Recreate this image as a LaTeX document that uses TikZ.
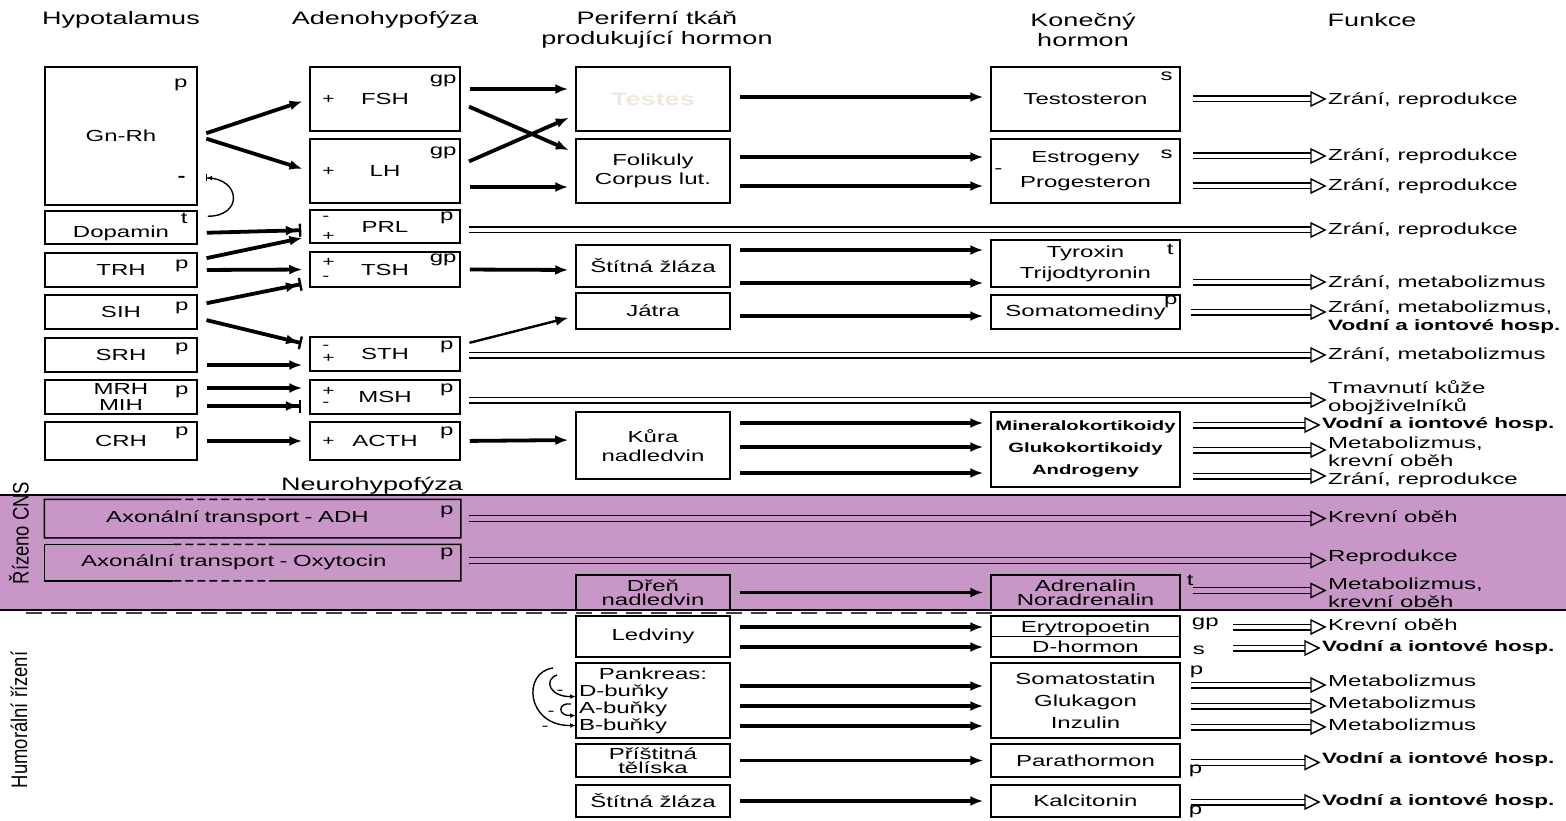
\documentclass[tikz,border=0pt]{standalone}
\usepackage{fontspec}
\setmainfont{Liberation Sans}[FakeStretch=1.5]
\newfontfamily\sidefont{Liberation Sans}[FakeStretch=0.82]
\usepackage{tikz}
\usetikzlibrary{positioning, arrows.meta, calc, backgrounds}

\definecolor{cnsband}{RGB}{201,150,200}
\definecolor{faint}{RGB}{238,233,220}

% double arrow with open head: start coordinate, target text node
\newcommand{\fnarrow}[2]{%
  \coordinate (fnS) at #1;
  \coordinate (fnE) at ($(fnS -| #2.west)+(-3,0)$);
  \draw[fnline] ($(fnS)+(0,-2.8)$) -- ($(fnE)+(-14,-2.8)$);
  \draw[fnline] ($(fnS)+(0,2.8)$) -- ($(fnE)+(-14,2.8)$);
  \draw[fnline, line join=miter] (fnE) -- ++(-14,-7) -- ++(0,14) -- cycle;
}

\begin{document}
\begin{tikzpicture}[
    x=1pt, y=-1pt,
    every node/.style={font=\fontsize{16}{19}\selectfont},
    head/.style={font=\fontsize{18}{20}\selectfont, align=center, inner sep=0pt},
    side/.style={font=\sidefont\fontsize{22.5}{24}\selectfont, rotate=90, inner sep=0pt},
    box/.style={draw, line width=1.5pt, inner sep=2pt, align=center},
    hyp/.style={box, minimum width=152pt},
    ade/.style={box, minimum width=150pt},
    per/.style={box, minimum width=154pt},
    kon/.style={box, minimum width=189pt},
    edge/.style={line width=1.5pt},
    tag/.style={inner sep=0pt},
    sign/.style={inner sep=0pt, font=\fontsize{14}{14}\selectfont},
    fn/.style={anchor=west, inner sep=0pt, align=left, font=\fontsize{16}{18}\selectfont},
    fnb/.style={fn, font=\bfseries\fontsize{15}{18}\selectfont},
    fnline/.style={line width=1.4pt},
    arr/.style={line width=3.8pt, -{Latex[length=13pt,width=10pt]}, shorten <=9pt, shorten >=7pt},
    inh/.style={arr, -{Latex[length=13pt,width=10pt] Bar[width=13pt,line width=2.4pt,sep=1pt]}},
    loopl/.style={line width=1.4pt, -{Latex[length=5pt,width=5pt] Bar[width=7pt,line width=1.4pt,sep=1pt]}},
    fbl/.style={line width=1.4pt, -{Latex[length=5pt,width=5pt]}},
    sepline/.style={line width=2.5pt, black!75, dash pattern=on 16pt off 9pt},
  ]
  \useasboundingbox (0,0) rectangle (1566,821);

  % ---- CNS band ----
  \begin{scope}[on background layer]
    \fill[cnsband] (0,495) rectangle (1566,610);
  \end{scope}
  \draw[sepline] (26,613) -- (993,613);
  \draw[line width=2.5pt] (0,495) -- (1566,495);
  \draw[line width=2.5pt] (0,610) -- (1566,610);

  % ---- Headings ----
  \node[head] (hhyp) at (121,20) {Hypotalamus};
  \node[head] (hade) at (385,20) {Adenohypofýza};
  \node[head] (hper) at (657,30) {Periferní tkáň\\produkující hormon};
  \node[head] (hkon) at (1083,30) {Konečný\\hormon};
  \node[head] (hfun) at (1372,20) {Funkce};
  \node[head] (hneu) at (372,486) {Neurohypofýza};
  \node[side] (scns) at (19,533) {Řízeno CNS};
  \node[side] (shum) at (19,720) {Humorální řízení};

  % ---- Hypotalamus ----
  \node[hyp, minimum height=138pt] (gnrh) at (121,136) {Gn-Rh};
  \node[hyp, minimum height=33pt] (dopa) at (121,227.5) {\raisebox{-6pt}[11pt][3pt]{Dopamin}};
  \node[hyp, minimum height=34pt] (trh) at (121,270) {TRH};
  \node[hyp, minimum height=34pt] (sih) at (121,312) {SIH};
  \node[hyp, minimum height=34pt] (srh) at (121,355) {SRH};
  \node[hyp, minimum height=34pt, font=\fontsize{16}{16}\selectfont] (mrh) at (121,397) {MRH\\MIH};
  \node[hyp, minimum height=38pt] (crh) at (121,441) {CRH};

  % ---- Adenohypofyza ----
  \node[ade, minimum height=64pt] (fsh) at (385,99) {FSH};
  \node[ade, minimum height=64pt] (lh) at (385,171) {LH};
  \node[ade, minimum height=33pt] (prl) at (385,226.5) {PRL};
  \node[ade, minimum height=35pt] (tsh) at (385,269.5) {TSH};
  \node[ade, minimum height=34pt] (sth) at (385,354) {STH};
  \node[ade, minimum height=34pt] (msh) at (385,397) {MSH};
  \node[ade, minimum height=38pt] (acth) at (385,441) {ACTH};

  % ---- Neurohypofyza ----
  \node[box, draw=none, minimum width=415pt, minimum height=37pt, text width=411pt, align=left] (adh) at (252.5,518.5) {\hspace*{59pt}Axonální transport - ADH};
  \node[box, draw=none, minimum width=415pt, minimum height=35pt, text width=411pt, align=left] (oxy) at (252.5,562.5) {\hspace*{34pt}Axonální transport - Oxytocin};
  \draw[edge] ($(adh.north west)!0.31!(adh.north east)$) -- (adh.north west) -- (adh.south west) -- (adh.south east) -- (adh.north east) -- ($(adh.north west)!0.54!(adh.north east)$);
  \draw[edge, dash pattern=on 8pt off 4pt] ($(adh.north west)!0.31!(adh.north east)$) -- ($(adh.north west)!0.54!(adh.north east)$);
  \draw[edge] ($(oxy.north west)!0.31!(oxy.north east)$) -- (oxy.north west) -- (oxy.south west) -- ($(oxy.south west)!0.31!(oxy.south east)$);
  \draw[edge] ($(oxy.north west)!0.54!(oxy.north east)$) -- (oxy.north east) -- (oxy.south east) -- ($(oxy.south west)!0.54!(oxy.south east)$);
  \draw[edge, dash pattern=on 8pt off 4pt] ($(oxy.north west)!0.31!(oxy.north east)$) -- ($(oxy.north west)!0.54!(oxy.north east)$);
  \draw[edge, dash pattern=on 8pt off 4pt] ($(oxy.south west)!0.31!(oxy.south east)$) -- ($(oxy.south west)!0.54!(oxy.south east)$);

  % ---- Periferni tkan ----
  \node[per, minimum height=64pt, font=\bfseries\fontsize{18}{20}\selectfont, text=faint] (testes) at (653,99) {Testes};
  \node[per, minimum height=64pt] (foli) at (653,171) {Folikuly\\Corpus lut.};
  \node[per, minimum height=42pt] (stit) at (653,266) {Štítná žláza};
  \node[per, minimum height=36pt] (jatra) at (653,311) {Játra};
  \node[per, minimum height=67pt] (kura) at (653,445.5) {Kůra\\nadledvin};
  \node[per, minimum height=35pt, font=\fontsize{16}{14}\selectfont] (dren) at (653,592.5) {Dřeň\\nadledvin};
  \node[per, minimum height=41pt] (ledv) at (653,636.5) {Ledviny};
  \node[per, minimum height=75pt, text width=148pt, align=left, font=\fontsize{16}{17}\selectfont] (pank) at (653,700.5) {\makebox[148pt]{Pankreas:}\\D-buňky\\A-buňky\\B-buňky};
  \node[per, minimum height=33pt, font=\fontsize{16}{14}\selectfont] (pris) at (653,760.5) {Příštitná\\tělíska};
  \node[per, minimum height=32pt] (stit2) at (653,801) {Štítná žláza};

  % ---- Konecny hormon ----
  \node[kon, minimum height=64pt] (testo) at (1085.5,99) {Testosteron};
  \node[kon, minimum height=64pt] (estro) at (1085.5,171) {Estrogeny\\[6pt]Progesteron};
  \node[kon, minimum height=47pt] (tyro) at (1085.5,263.5) {Tyroxin\\[2pt]Trijodtyronin};
  \node[kon, minimum height=34pt] (soma) at (1085.5,312) {Somatomediny};
  \node[kon, minimum height=75pt, font=\bfseries\fontsize{13.5}{22}\selectfont] (mine) at (1085.5,449.5) {Mineralokortikoidy\\Glukokortikoidy\\Androgeny};
  \node[kon, minimum height=35pt, font=\fontsize{16}{14}\selectfont] (adre) at (1085.5,592.5) {Adrenalin\\Noradrenalin};
  \node[kon, minimum height=41pt, font=\fontsize{16}{20}\selectfont] (eryt) at (1085.5,636.5) {Erytropoetin\\D-hormon};
  \draw[edge] (eryt.west) -- (eryt.east);
  \node[kon, minimum height=75pt, font=\fontsize{16}{22}\selectfont] (pkh) at (1085.5,700.5) {Somatostatin\\Glukagon\\Inzulin};
  \node[kon, minimum height=33pt] (para) at (1085.5,760.5) {Parathormon};
  \node[kon, minimum height=32pt] (kalc) at (1085.5,801) {Kalcitonin};

  % ---- Tags ----
  \node[tag, below left=12pt and 10pt of gnrh.north east] (gnrhp) {p};
  \node[tag, above left=24pt and 12pt of gnrh.south east, font=\bfseries\fontsize{16}{16}\selectfont] (gnrhm) {-};
  \node[tag, below left=3pt and 10pt of dopa.north east] (dopat) {t};
  \node[tag, below left=7pt and 9pt of trh.north east] (trhp) {p};
  \node[tag, below left=7pt and 9pt of sih.north east] (sihp) {p};
  \node[tag, below left=5pt and 9pt of srh.north east] (srhp) {p};
  \node[tag, below left=6pt and 9pt of mrh.north east] (mrhp) {p};
  \node[tag, below left=5pt and 9pt of crh.north east] (crhp) {p};
  \node[tag, below left=8pt and 4pt of fsh.north east] (fshp) {gp};
  \node[tag, below left=8pt and 4pt of lh.north east] (lhp) {gp};
  \node[tag, below left=2pt and 7pt of prl.north east] (prlt) {p};
  \node[tag, below left=2pt and 4pt of tsh.north east] (tshp) {gp};
  \node[tag, below left=4pt and 7pt of sth.north east] (stht) {p};
  \node[tag, below left=4pt and 7pt of msh.north east] (msht) {p};
  \node[tag, below left=5pt and 7pt of acth.north east] (actht) {p};
  \node[tag, below left=6pt and 7pt of adh.north east] (adht) {p};
  \node[tag, below left=3pt and 7pt of oxy.north east] (oxyt) {p};
  \node[tag, below left=5pt and 8pt of testo.north east] (testot) {s};
  \node[tag, below left=11pt and 8pt of estro.north east] (estrot) {s};
  \node[tag, right=4pt of estro.west] (estrom) {-};
  \node[tag, below left=5pt and 7pt of tyro.north east] (tyrot) {t};
  \node[tag, below left=1pt and 3pt of soma.north east] (somat) {p};
  \node[tag, below right=1pt and 6pt of adre.north east] (adret) {t};
  \node[tag, below right=2pt and 11pt of eryt.north east] (erytt) {gp};
  \node[tag, above right=3pt and 12pt of eryt.south east] (dhormt) {s};
  \node[tag, below right=3pt and 9pt of pkh.north east] (pkht) {p};
  \node[tag, above right=1pt and 8pt of para.south east] (parat) {p};
  \node[tag, above right=0pt and 8pt of kalc.south east] (kalct) {p};

  % ---- Signs ----
  \node[sign, right=13pt of fsh.west] (fshs) {+};
  \node[sign, right=13pt of lh.west] (lhs) {+};
  \node[sign, right=13pt of prl.west, yshift=8pt] (prlm) {-};
  \node[sign, right=13pt of prl.west, yshift=-10pt] (prlp) {+};
  \node[sign, right=13pt of tsh.west, yshift=7pt] (tshs) {+};
  \node[sign, right=13pt of tsh.west, yshift=-9pt] (tshm) {-};
  \node[sign, right=13pt of sth.west, yshift=7pt] (sthm) {-};
  \node[sign, right=13pt of sth.west, yshift=-4pt] (sthp) {+};
  \node[sign, right=13pt of msh.west, yshift=6pt] (mshp) {+};
  \node[sign, right=13pt of msh.west, yshift=-7pt] (mshm) {-};
  \node[sign, right=13pt of acth.west] (acths) {+};

  % ---- Funkce ----
  \node[fn] (f1) at (1328,100) {Zrání, reprodukce};
  \node[fn] (f2) at (1328,156) {Zrání, reprodukce};
  \node[fn] (f3) at (1328,186) {Zrání, reprodukce};
  \node[fn] (f4) at (1328,230) {Zrání, reprodukce};
  \node[fn] (f5) at (1328,283) {Zrání, metabolizmus};
  \node[fn] (f6) at (1328,317) {Zrání, metabolizmus,\\{\bfseries\fontsize{15}{18}\selectfont Vodní a iontové hosp.}};
  \node[fn] (f7) at (1328,355) {Zrání, metabolizmus};
  \node[fn] (f8) at (1328,398) {Tmavnutí kůže\\obojživelníků};
  \node[fnb] (f9) at (1322,425) {Vodní a iontové hosp.};
  \node[fn] (f10) at (1328,452) {Metabolizmus,\\krevní oběh};
  \node[fn] (f11) at (1328,480) {Zrání, reprodukce};
  \node[fn] (f12) at (1328,517) {Krevní oběh};
  \node[fn] (f13) at (1328,557) {Reprodukce};
  \node[fn] (f14) at (1328,593) {Metabolizmus,\\krevní oběh};
  \node[fn] (f15) at (1328,625) {Krevní oběh};
  \node[fnb] (f16) at (1322,648) {Vodní a iontové hosp.};
  \node[fn] (f17) at (1328,681) {Metabolizmus};
  \node[fn] (f18) at (1328,703) {Metabolizmus};
  \node[fn] (f19) at (1328,725) {Metabolizmus};
  \node[fnb] (f20) at (1322,760) {Vodní a iontové hosp.};
  \node[fnb] (f21) at (1322,802) {Vodní a iontové hosp.};

  % ---- Arrows: hypothalamus -> adenohypofyza ----
  \draw[arr] (gnrh.east) -- (fsh.west);
  \draw[arr] (gnrh.east) -- (lh.west);
  \draw[inh] ([yshift=-5.5pt]dopa.east) -- ([yshift=-3.5pt]prl.west);
  \draw[arr] ([yshift=10pt]trh.east) -- ([yshift=-10pt]prl.west);
  \draw[arr] (trh.east) -- (tsh.west);
  \draw[inh] ([yshift=7pt]sih.east) -- ([yshift=-13pt]tsh.west);
  \draw[inh] ([yshift=-6pt]sih.east) -- ([yshift=9pt]sth.west);
  \draw[arr] ([yshift=-10pt]srh.east) -- ([yshift=-11pt]sth.west);
  \draw[arr] ([yshift=9pt]mrh.east) -- ([yshift=9pt]msh.west);
  \draw[inh] ([yshift=-9pt]mrh.east) -- ([yshift=-9pt]msh.west);
  \draw[arr] (crh.east) -- (acth.west);
  \draw[loopl] ([xshift=10pt,yshift=-6pt]dopa.north east) to[out=0, in=0, looseness=2.4] ([xshift=7pt,yshift=-42pt]gnrh.east);

  % ---- Arrows: adenohypofyza -> periferni tkan ----
  \draw[arr] ([yshift=10pt]fsh.east) -- ([yshift=10pt]testes.west);
  \draw[arr] ([yshift=-4pt]fsh.east) -- ([yshift=18pt]foli.west);
  \draw[arr] ([yshift=6pt]lh.east) -- ([yshift=-16pt]testes.west);
  \draw[arr] ([yshift=-16pt]lh.east) -- ([yshift=-16pt]foli.west);
  \draw[arr] (tsh.east) -- ([yshift=-4pt]stit.west);
  \draw[arr, line width=2.4pt] ([yshift=9pt]sth.east) -- ([yshift=-5pt]jatra.west);
  \draw[arr] (acth.east) -- ([yshift=5.5pt]kura.west);

  % ---- Arrows: periferni tkan -> konecny hormon ----
  \draw[arr] ([yshift=2pt]testes.east) -- ([yshift=2pt]testo.west);
  \draw[arr] ([yshift=14pt]foli.east) -- ([yshift=14pt]estro.west);
  \draw[arr] ([yshift=-15pt]foli.east) -- ([yshift=-15pt]estro.west);
  \draw[arr] ([yshift=16pt]stit.east) -- ([yshift=13.5pt]tyro.west);
  \draw[arr] ([yshift=-17pt]stit.east) -- ([yshift=-19.5pt]tyro.west);
  \draw[arr] ([yshift=-5pt]jatra.east) -- ([yshift=-4pt]soma.west);
  \draw[arr] ([yshift=22.5pt]kura.east) -- ([yshift=26.5pt]mine.west);
  \draw[arr] ([yshift=-1.5pt]kura.east) -- ([yshift=2.5pt]mine.west);
  \draw[arr] ([yshift=-27.5pt]kura.east) -- ([yshift=-23.5pt]mine.west);
  \draw[arr] (dren.east) -- (adre.west);
  \draw[arr] ([yshift=9.5pt]ledv.east) -- ([yshift=9.5pt]eryt.west);
  \draw[arr] ([yshift=-10.5pt]ledv.east) -- ([yshift=-10.5pt]eryt.west);
  \draw[arr] ([yshift=14.5pt]pank.east) -- ([yshift=14.5pt]pkh.west);
  \draw[arr] ([yshift=-5.5pt]pank.east) -- ([yshift=-5.5pt]pkh.west);
  \draw[arr] ([yshift=-25.5pt]pank.east) -- ([yshift=-25.5pt]pkh.west);
  \draw[arr] (pris.east) -- (para.west);
  \draw[arr] (stit2.east) -- (kalc.west);

  % ---- Pankreas feedback ----
  \coordinate (pkfb) at (553,668);
  \coordinate (pkfc) at (557,675);
  \coordinate (pkfd) at (571,704);
  \draw[fbl] (pkfb) .. controls (522,672) and (526,726) .. ([yshift=-25pt]pank.west);
  \draw[fbl] (pkfc) .. controls (543,680) and (550,697) .. ([yshift=4pt]pank.west);
  \draw[fbl] (pkfd) .. controls (558,702) and (557,716) .. ([yshift=-15pt]pank.west);
  \node[sign] (pkm1) at (560,692) {-};
  \node[sign] (pkm2) at (551,713) {-};
  \node[sign] (pkm3) at (545,728) {-};

  % ---- Function arrows ----
  \fnarrow{($(testo.east)+(12,0)$)}{f1}
  \fnarrow{($(estro.east)+(12,-15)$)}{f2}
  \fnarrow{($(estro.east)+(12,15)$)}{f3}
  \fnarrow{($(prl.east)+(8,3.5)$)}{f4}
  \fnarrow{($(tyro.east)+(12,18.5)$)}{f5}
  \fnarrow{($(soma.east)+(10,0)$)}{f6}
  \fnarrow{($(sth.east)+(8,1)$)}{f7}
  \fnarrow{($(msh.east)+(8,3)$)}{f8}
  \fnarrow{($(mine.east)+(12,-24.5)$)}{f9}
  \fnarrow{($(mine.east)+(12,0.5)$)}{f10}
  \fnarrow{($(mine.east)+(12,26.5)$)}{f11}
  \fnarrow{($(adh.east)+(8,0)$)}{f12}
  \fnarrow{($(oxy.east)+(8,-2)$)}{f13}
  \fnarrow{($(adre.east)+(12,-2)$)}{f14}
  \fnarrow{($(eryt.east)+(52,-9.5)$)}{f15}
  \fnarrow{($(eryt.east)+(52,11.5)$)}{f16}
  \fnarrow{($(pkh.east)+(10,-15.5)$)}{f17}
  \fnarrow{($(pkh.east)+(10,5.5)$)}{f18}
  \fnarrow{($(pkh.east)+(10,26.5)$)}{f19}
  \fnarrow{($(para.east)+(10,2)$)}{f20}
  \fnarrow{($(kalc.east)+(10,1)$)}{f21}

\end{tikzpicture}
\end{document}
